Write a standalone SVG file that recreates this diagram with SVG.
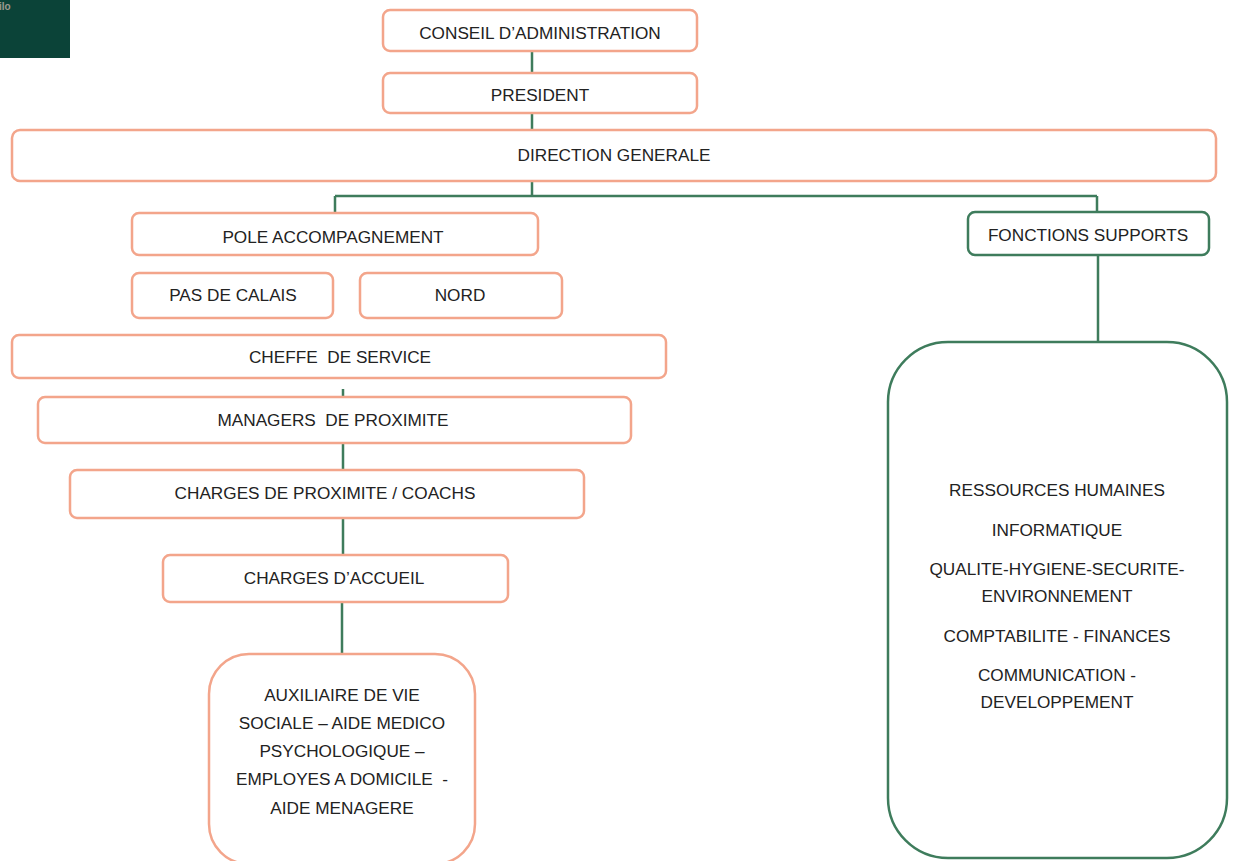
<svg xmlns="http://www.w3.org/2000/svg" width="1236" height="861" viewBox="0 0 1236 861">
<style>
.n{fill:#fff;stroke:#F3A58B;stroke-width:2.5}
.g{fill:#fff;stroke:#3E7C5C;stroke-width:2.5}
.t{font-family:"Liberation Sans",Arial,sans-serif;font-size:17.2px;fill:#222;text-anchor:middle;dominant-baseline:central}
.c{stroke:#3E7C5C;stroke-width:2.5;fill:none}
</style>
<rect x="0" y="0" width="70" height="58" fill="#0B4338"/>
<text x="-1" y="10" font-family="Liberation Sans,Arial,sans-serif" font-size="10" font-weight="bold" fill="#9E9A90">ilo</text>
<g id="connectors">
<path class="c" d="M532 51V73M532 113V130M532 181V196M335 196H1097M335 196V213M1097 196V212M1098 255V343M343 389V398M343 443V470M343 518V555M342 602V654"/>
</g>
<g id="conseil"><rect class="n" x="383" y="10" width="314" height="41" rx="7"/><text class="t" x="540" y="33">CONSEIL D’ADMINISTRATION</text></g>
<g id="president"><rect class="n" x="383" y="73" width="314" height="40" rx="7"/><text class="t" x="540" y="95">PRESIDENT</text></g>
<g id="direction"><rect class="n" x="12" y="130" width="1204" height="51" rx="8"/><text class="t" x="614" y="155">DIRECTION GENERALE</text></g>
<g id="pole"><rect class="n" x="132" y="213" width="406" height="42" rx="7"/><text class="t" x="333" y="237">POLE ACCOMPAGNEMENT</text></g>
<g id="pasdecalais"><rect class="n" x="132" y="273" width="201" height="45" rx="7"/><text class="t" x="233" y="295">PAS DE CALAIS</text></g>
<g id="nord"><rect class="n" x="360" y="273" width="202" height="45" rx="7"/><text class="t" x="460" y="295">NORD</text></g>
<g id="fonctions"><rect class="g" x="968" y="212" width="241" height="43" rx="7"/><text class="t" x="1088" y="235">FONCTIONS SUPPORTS</text></g>
<g id="supports"><rect class="g" x="888" y="342" width="339" height="516" rx="60"/>
<text class="t" x="1057" y="490">RESSOURCES HUMAINES</text>
<text class="t" x="1057" y="530">INFORMATIQUE</text>
<text class="t" x="1057" y="569">QUALITE-HYGIENE-SECURITE-</text>
<text class="t" x="1057" y="596">ENVIRONNEMENT</text>
<text class="t" x="1057" y="636">COMPTABILITE - FINANCES</text>
<text class="t" x="1057" y="675">COMMUNICATION -</text>
<text class="t" x="1057" y="702">DEVELOPPEMENT</text>
</g>
<g id="cheffe"><rect class="n" x="12" y="335" width="654" height="43" rx="7"/><text class="t" x="340" y="357" xml:space="preserve">CHEFFE  DE SERVICE</text></g>
<g id="managers"><rect class="n" x="38" y="397" width="593" height="46" rx="7"/><text class="t" x="333" y="420" xml:space="preserve">MANAGERS  DE PROXIMITE</text></g>
<g id="charges-proximite"><rect class="n" x="70" y="470" width="514" height="48" rx="7"/><text class="t" x="325" y="493">CHARGES DE PROXIMITE / COACHS</text></g>
<g id="charges-accueil"><rect class="n" x="163" y="555" width="345" height="47" rx="7"/><text class="t" x="334" y="578">CHARGES D’ACCUEIL</text></g>
<g id="auxiliaire"><rect class="n" x="209" y="654" width="266" height="210" rx="40"/>
<text class="t" x="342" y="695">AUXILIAIRE DE VIE</text>
<text class="t" x="342" y="723">SOCIALE – AIDE MEDICO</text>
<text class="t" x="342" y="751">PSYCHOLOGIQUE –</text>
<text class="t" x="342" y="779" xml:space="preserve">EMPLOYES A DOMICILE  -</text>
<text class="t" x="342" y="808">AIDE MENAGERE</text>
</g>
</svg>
